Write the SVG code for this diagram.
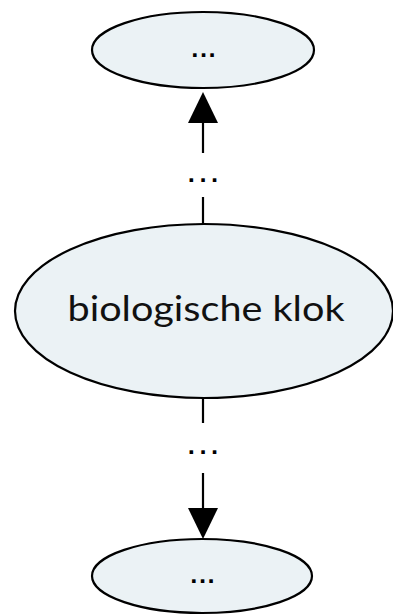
<svg xmlns="http://www.w3.org/2000/svg" width="393" height="615" viewBox="0 0 393 615">
<style>
.node{fill:#ebf2f5;stroke:#000;stroke-width:2.2}
.edge{stroke:#000;stroke-width:2.2;fill:none}
.lbl{font-family:Lato,"Noto Sans",sans-serif;fill:#111;text-anchor:middle}
.dots{font-family:"DejaVu Sans",sans-serif;font-size:20px;font-weight:bold;fill:#000;text-anchor:middle}
.mid{letter-spacing:4px}
.in{letter-spacing:1px}
</style>
<g id="edges">
<line class="edge" x1="203" y1="225" x2="203" y2="197"/>
<line class="edge" x1="203" y1="153" x2="203" y2="123"/>
<path d="M188,123 L218,123 L203,92 z" fill="#000"/>
<text class="dots mid" x="205" y="182">...</text>
<line class="edge" x1="203" y1="398" x2="203" y2="423"/>
<line class="edge" x1="203" y1="473" x2="203" y2="508"/>
<path d="M188,508 L218,508 L203,539 z" fill="#000"/>
<text class="dots mid" x="205" y="454">...</text>
</g>
<g id="top">
<ellipse class="node" cx="203" cy="50" rx="111" ry="38"/>
<text class="dots in" x="204" y="57">...</text>
</g>
<g id="main">
<ellipse class="node" cx="204" cy="311" rx="189" ry="87"/>
<text class="lbl" x="206" y="321" font-size="35" textLength="277" lengthAdjust="spacingAndGlyphs">biologische klok</text>
</g>
<g id="bottom">
<ellipse class="node" cx="202" cy="576" rx="110" ry="37"/>
<text class="dots in" x="203" y="583">...</text>
</g>
</svg>
